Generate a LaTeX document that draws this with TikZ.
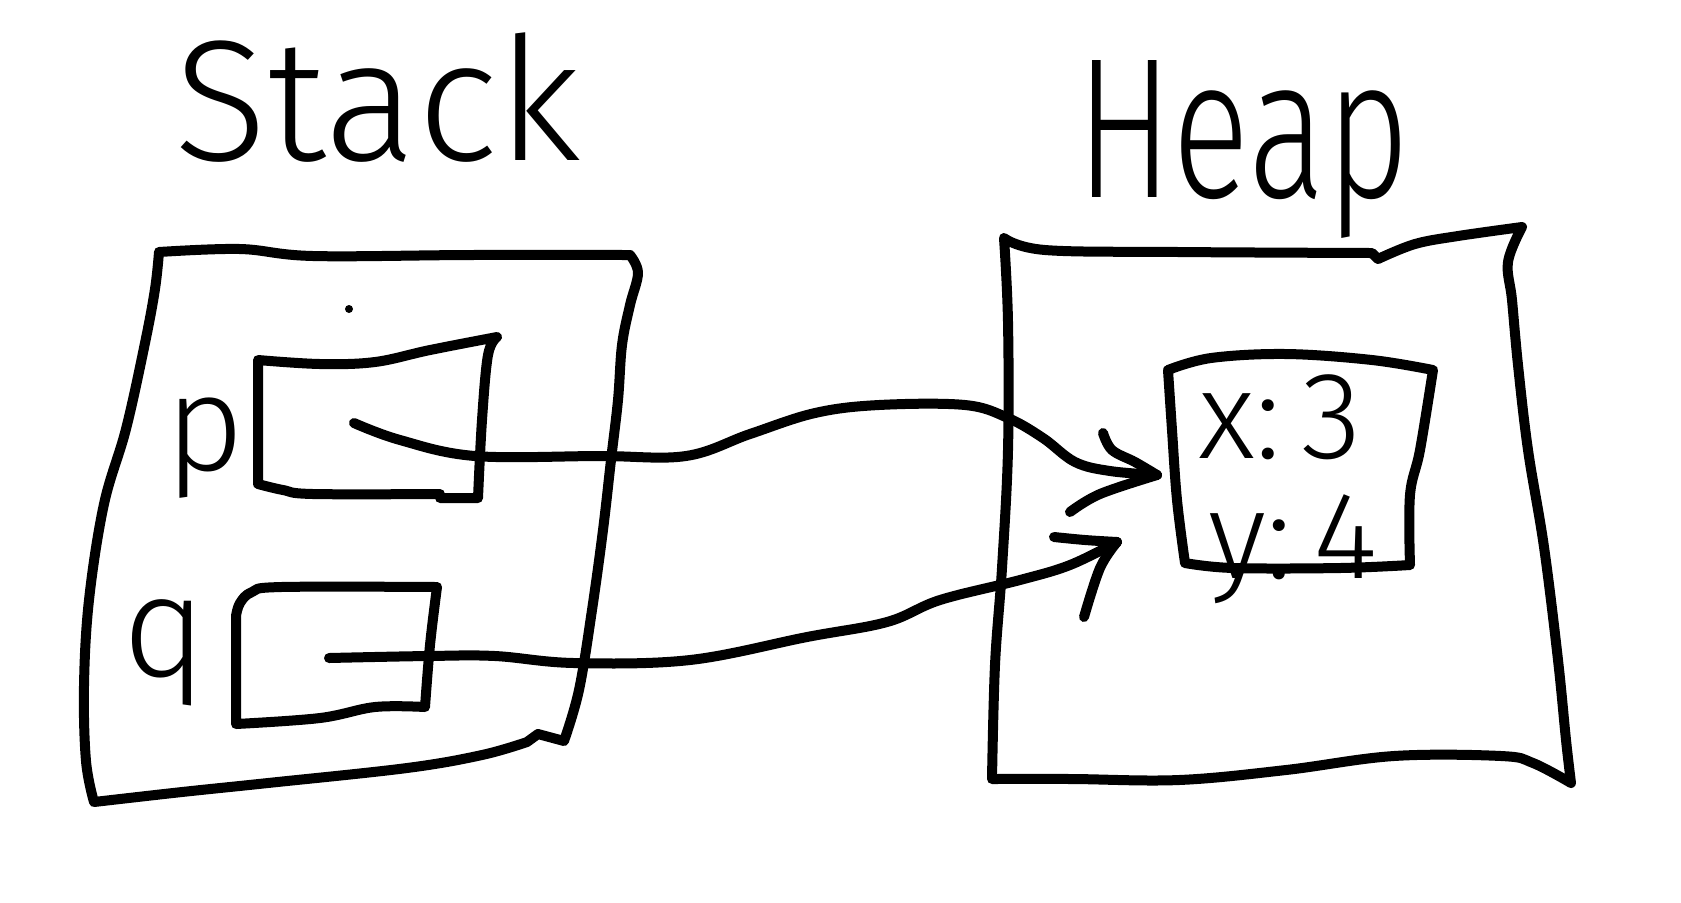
\documentclass[tikz,border=0pt]{standalone}
\usepackage{fontspec}
\IfFontExistsTF{Fira Sans Light}{\newfontfamily\handfont{Fira Sans Light}}{\newfontfamily\handfont{Fira Sans}}
\begin{document}
\begin{tikzpicture}[x=0.25pt,y=-0.25pt,
  hand/.style={line width=2.5pt,line cap=round,line join=round},
  lbl/.style={inner sep=0pt,anchor=base,font=\handfont}]
\useasboundingbox (0,0) rectangle (1681,902);
\fill[white] (0,0) rectangle (1681,902);

% titles
\node[lbl,font=\handfont\fontsize{43pt}{43pt}\selectfont] (stacktitle) at (378,160) {Stack};
\node[lbl,font=\handfont\fontsize{50pt}{50pt}\selectfont] (heaptitle) at (1243,197) {\scalebox{0.72}[1]{Heap}};

% stack frame
\draw[hand] plot[smooth,tension=0.6] coordinates {(159,252) (240,249) (313,256) (470,255) (630,255)}
  -- plot[smooth,tension=0.6] coordinates {(630,255) (638,273) (630,305) (622,345) (618,400) (611,460) (603,530) (592,610) (579,690) (564,741)}
  -- (538,734) -- (527,742)
  -- plot[smooth,tension=0.6] coordinates {(527,742) (482,755) (407,768) (268,783) (182,792) (94,802)}
  -- plot[smooth,tension=0.6] coordinates {(94,802) (86,761) (84,686) (89,600) (104,504) (126,429) (145,343) (155,289) (159,252)};
\fill (349,309) circle[radius=4];

% p box
\draw[hand] plot[smooth,tension=0.6] coordinates {(258,360) (320,364) (375,362) (430,350) (497,337)}
  -- plot[smooth,tension=0.6] coordinates {(497,337) (488,355) (482,420) (478,498)}
  -- (440,498) -- (440,494)
  -- plot[smooth,tension=0.6] coordinates {(440,494) (313,494) (283,490) (258,484)}
  -- cycle;
% q box
\draw[hand] plot[smooth,tension=0.6] coordinates {(437,587) (281,587) (252,592) (240,603) (236,616)}
  -- (236,724)
  -- plot[smooth,tension=0.6] coordinates {(236,724) (320,718) (375,707) (425,707)}
  -- plot[smooth,tension=0.6] coordinates {(425,707) (430,645) (437,587)};

\node[lbl,font=\handfont\fontsize{34pt}{34pt}\selectfont] (plabel) at (205,470) {p};
\node[lbl,font=\handfont\fontsize{36pt}{36pt}\selectfont] (qlabel) at (165,676) {q};

% heap frame
\draw[hand] plot[smooth,tension=0.6] coordinates {(1004,238) (1045,250) (1179,252) (1372,253)}
  -- (1378,259)
  -- plot[smooth,tension=0.6] coordinates {(1378,259) (1415,244) (1458,236) (1522,227)}
  -- plot[smooth,tension=0.6] coordinates {(1522,227) (1508,262) (1512,300) (1518,365) (1528,450) (1544,547) (1558,660) (1566,740) (1571,783)}
  -- plot[smooth,tension=0.6] coordinates {(1571,783) (1533,763) (1501,756) (1394,756) (1286,770) (1179,780) (1072,779) (992,779)}
  -- plot[smooth,tension=0.6] coordinates {(992,779) (995,665) (1002,568) (1008,450) (1008,322) (1004,238)};

% object box
\draw[hand] plot[smooth,tension=0.6] coordinates {(1168,370) (1211,358) (1286,354) (1372,360) (1433,370)}
  -- plot[smooth,tension=0.6] coordinates {(1433,370) (1420,450) (1410,495) (1410,565)}
  -- plot[smooth,tension=0.6] coordinates {(1410,565) (1340,568) (1233,568) (1185,563)}
  -- plot[smooth,tension=0.6] coordinates {(1185,563) (1177,500) (1172,430) (1168,370)};
\node[lbl,font=\handfont\fontsize{31pt}{31pt}\selectfont] (xfield) at (1280,458) {x:\,3};
\node[lbl,font=\handfont\fontsize{31pt}{31pt}\selectfont] (yfield) at (1293,578) {y:\,4};

% pointers
\coordinate (pstart) at (354,423);
\coordinate (ptip) at (1157,475);
\coordinate (qstart) at (329,658);
\coordinate (qtip) at (1117,542);

\draw[hand] plot[smooth,tension=0.6] coordinates {(pstart) (400,440) (475,456) (600,456) (686,456) (750,434) (815,413) (879,405) (965,405) (1008,418) (1043,438) (1075,462) (1110,471) (ptip)};
\draw[hand] plot[smooth,tension=0.6] coordinates {(1103,433) (1112,450) (1135,462) (ptip)};
\draw[hand] plot[smooth,tension=0.6] coordinates {(1070,512) (1100,494) (ptip)};

\draw[hand] plot[smooth,tension=0.6] coordinates {(qstart) (428,656) (495,656) (574,663) (690,660) (807,637) (887,622) (940,600) (1020,580) (1070,565) (qtip)};
\draw[hand] plot[smooth,tension=0.6] coordinates {(1054,537) (1085,540) (qtip)};
\draw[hand] plot[smooth,tension=0.6] coordinates {(1084,617) (1100,568) (qtip)};
\end{tikzpicture}
\end{document}
